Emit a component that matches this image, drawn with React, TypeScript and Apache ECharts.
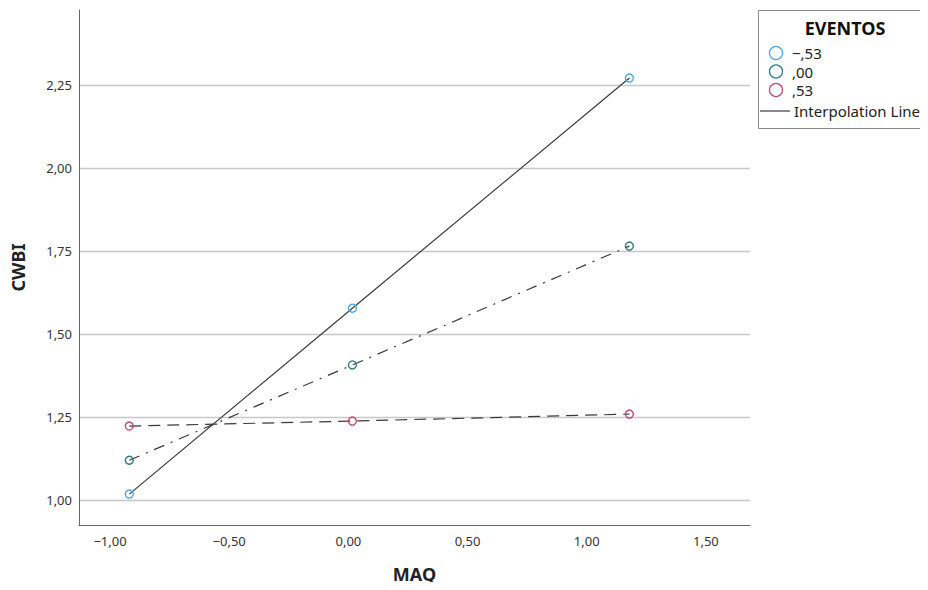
import React, { useEffect, useRef } from "react";
import * as echarts from "echarts";

const maqValues = [-0.919, 0.017, 1.179];
const groupLabels = ["\u2212,53", ",00", ",53"];
const cwbiLow = [1.018, 1.578, 2.271];
const cwbiMid = [1.12, 1.407, 1.765];
const cwbiHigh = [1.223, 1.238, 1.259];
const groupColors = ["#45a8ee", "#2b7d78", "#c4466f"];
const xTicks = [-1, -0.5, 0, 0.5, 1, 1.5];
const yTicks = [1, 1.25, 1.5, 1.75, 2, 2.25];
const legendTitle = "EVENTOS";
const interpLabel = "Interpolation Line";

const fmt = (v: number) => {
  const s = Math.abs(v).toFixed(2).replace(".", ",");
  return (v < -1e-9 ? "\u2212" : "") + s;
};

const FONT = "'Noto Sans', 'DejaVu Sans', sans-serif";

export default function App() {
  const ref = useRef<HTMLDivElement>(null);
  useEffect(() => {
    if (!ref.current) return;
    const chart = echarts.init(ref.current, undefined, { renderer: "svg" });
    const seriesVals = [cwbiLow, cwbiMid, cwbiHigh];
    const dashTypes: any[] = ["solid", [11, 7, 2, 7], [12, 7]];
    const series = seriesVals.map((vals, i) => ({
      type: "line",
      name: groupLabels[i],
      data: vals.map((y, j) => [maqValues[j], y]),
      symbol: "circle",
      symbolSize: 8,
      lineStyle: { color: "#3a3a3a", width: 1.2, type: dashTypes[i] },
      itemStyle: { color: "rgba(255,255,255,0)", borderColor: groupColors[i], borderWidth: 1.4 },
      z: 3,
    }));
    const legendItems: any[] = [];
    groupLabels.forEach((lab, i) => {
      const cy = 53 + i * 18.5;
      legendItems.push({
        type: "circle",
        shape: { cx: 776, cy, r: 6.5 },
        style: { fill: "#fff", stroke: groupColors[i], lineWidth: 1.3 },
      });
      legendItems.push({
        type: "text",
        x: 792,
        y: cy,
        style: {
          text: lab,
          font: `15px ${FONT}`,
          lineHeight: 16,
          fill: "#222",
          textVerticalAlign: "middle",
        },
      });
    });
    legendItems.push({
      type: "line",
      shape: { x1: 760, y1: 111, x2: 790, y2: 111 },
      style: { stroke: "#555", lineWidth: 1.4 },
    });
    legendItems.push({
      type: "text",
      x: 794,
      y: 111,
      style: {
        text: interpLabel,
        font: `15px ${FONT}`,
        lineHeight: 16,
        fill: "#222",
        textVerticalAlign: "middle",
      },
    });
    chart.setOption({
      animation: false,
      backgroundColor: "#fff",
      grid: { left: 79, right: 178, top: 10, bottom: 65, containLabel: false },
      xAxis: {
        type: "value",
        min: -1.13,
        max: 1.685,
        name: "MAQ",
        nameLocation: "middle",
        nameGap: 40,
        nameTextStyle: { fontFamily: FONT, fontWeight: "bold", fontSize: 18, color: "#222" },
        axisLine: { show: true, onZero: false, lineStyle: { color: "#666", width: 1 } },
        axisTick: { show: false, customValues: xTicks },
        splitLine: { show: false },
        axisLabel: {
          customValues: xTicks,
          formatter: (v: number) => fmt(v),
          fontFamily: FONT,
          fontSize: 13,
          color: "#333",
          margin: 9,
        },
      },
      yAxis: {
        type: "value",
        min: 0.925,
        max: 2.476,
        name: "CWBI",
        nameLocation: "middle",
        nameRotate: 90,
        nameGap: 52,
        nameTextStyle: { fontFamily: FONT, fontWeight: "bold", fontSize: 18, color: "#222" },
        axisLine: { show: true, onZero: false, lineStyle: { color: "#666", width: 1 } },
        axisTick: { show: false, customValues: yTicks },
        splitLine: { show: true, lineStyle: { color: "#c8c8c8", width: 1.3 } },
        axisLabel: {
          customValues: yTicks,
          formatter: (v: number) => fmt(v),
          fontFamily: FONT,
          fontSize: 13,
          color: "#333",
          margin: 7,
        },
      },
      series,
      graphic: [
        {
          type: "rect",
          shape: { x: 758.5, y: 10.5, width: 180, height: 118 },
          style: { fill: "#fff", stroke: "#888", lineWidth: 1 },
        },
        {
          type: "text",
          x: 845,
          y: 28,
          style: {
            text: legendTitle,
            font: `bold 18px ${FONT}`,
            fill: "#111",
            textAlign: "center",
            textVerticalAlign: "middle",
          },
        },
        ...legendItems,
      ],
    });
    return () => chart.dispose();
  }, []);
  return <div ref={ref} style={{ width: 928, height: 590, margin: -8 }} />;
}
